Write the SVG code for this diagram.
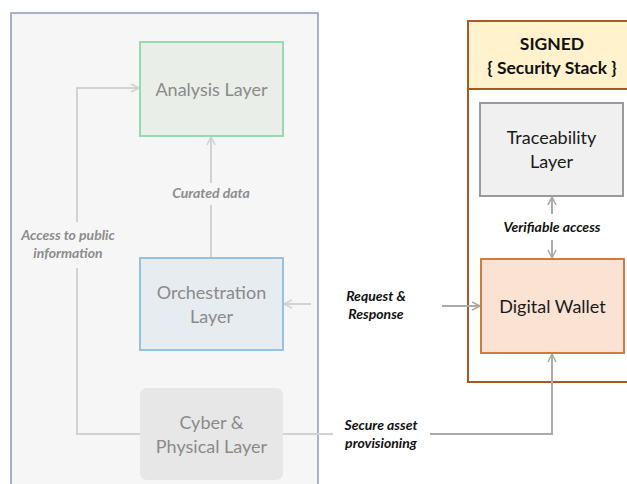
<svg xmlns="http://www.w3.org/2000/svg" width="627" height="484" viewBox="0 0 627 484">
  <defs>
    <style>
      .t { font-family: Lato, "Open Sans", sans-serif; text-anchor: middle; }
      .node { font-size: 18px; }
      .faded { fill: #8a8a8a; }
      .dark { fill: #1a1a1a; }
      .lbl { font-size: 14px; font-weight: bold; font-style: italic; }
      .lbl-f { fill: #8c8c8c; }
      .lbl-d { fill: #111; }
      .hdr { font-size: 17.5px; font-weight: bold; fill: #111; }
      .cf { fill: none; stroke: #d2d2d2; stroke-width: 2; }
      .cd { fill: none; stroke: #ababab; stroke-width: 2; }
    </style>
    <marker id="af" viewBox="0 0 10 10" refX="9" refY="5" markerWidth="5" markerHeight="5" orient="auto-start-reverse" markerUnits="strokeWidth">
      <path d="M1,1 L9,5 L1,9" fill="none" stroke="#d2d2d2" stroke-width="1.6"/>
    </marker>
    <marker id="ad" viewBox="0 0 10 10" refX="9" refY="5" markerWidth="5" markerHeight="5" orient="auto-start-reverse" markerUnits="strokeWidth">
      <path d="M1,1 L9,5 L1,9" fill="none" stroke="#ababab" stroke-width="1.6"/>
    </marker>
  </defs>

  <rect width="627" height="484" fill="#ffffff"/>

  <!-- platform panel -->
  <g id="platform">
    <rect x="11" y="13" width="307" height="480" fill="#f6f6f6" stroke="#8f9bb0" stroke-width="1.5"/>
  </g>

  <!-- security stack container -->
  <g id="security-stack">
    <rect x="468" y="21" width="170" height="361" fill="#ffffff" stroke="#a55a25" stroke-width="2"/>
    <rect x="468" y="21" width="170" height="68" fill="#fff2cc" stroke="#a55a25" stroke-width="2"/>
    <text class="t hdr" x="552" y="50">SIGNED</text>
    <text class="t hdr" x="552" y="74">{ Security Stack }</text>
  </g>

  <!-- connectors -->
  <g id="connectors">
    <!-- curated data -->
    <line class="cf" x1="211" y1="258" x2="211" y2="205"/>
    <line class="cf" x1="211" y1="183" x2="211" y2="137" marker-end="url(#af)"/>
    <!-- access to public information -->
    <polyline class="cf" points="140,434 77,434 77,268"/>
    <polyline class="cf" points="77,222 77,88 139,88" marker-end="url(#af)"/>
    <!-- request & response -->
    <line class="cf" x1="311" y1="304" x2="284" y2="304" marker-end="url(#af)"/>
    <line class="cd" x1="442" y1="306" x2="480" y2="306" marker-end="url(#ad)"/>
    <!-- secure asset provisioning -->
    <line class="cf" x1="283" y1="434" x2="333" y2="434"/>
    <polyline class="cd" points="430,434 552,434 552,354" marker-end="url(#ad)"/>
    <!-- verifiable access -->
    <line class="cd" x1="552" y1="197" x2="552" y2="214" marker-start="url(#ad)"/>
    <line class="cd" x1="552" y1="240" x2="552" y2="258" marker-end="url(#ad)"/>
  </g>

  <!-- nodes -->
  <g id="analysis-layer">
    <rect x="140" y="42" width="143" height="94" fill="#e9eee8" stroke="#95dab0" stroke-width="2"/>
    <text class="t node faded" x="211.5" y="96">Analysis Layer</text>
  </g>

  <g id="orchestration-layer">
    <rect x="140" y="258" width="143" height="92" fill="#e7ecf1" stroke="#92c3e2" stroke-width="2"/>
    <text class="t node faded" x="211.5" y="299">Orchestration</text>
    <text class="t node faded" x="211.5" y="323">Layer</text>
  </g>

  <g id="cyber-physical-layer">
    <rect x="140" y="388" width="143" height="92" rx="7" fill="#e7e7e7"/>
    <text class="t node faded" x="211.5" y="429">Cyber &amp;</text>
    <text class="t node faded" x="211.5" y="453">Physical Layer</text>
  </g>

  <g id="traceability-layer">
    <rect x="480" y="103" width="143" height="93" fill="#f0f0f0" stroke="#9a9a9a" stroke-width="2"/>
    <text class="t node dark" x="551.5" y="144">Traceability</text>
    <text class="t node dark" x="551.5" y="168">Layer</text>
  </g>

  <g id="digital-wallet">
    <rect x="481" y="259" width="143" height="94" fill="#fbe3d4" stroke="#d6793a" stroke-width="2"/>
    <text class="t node dark" x="552.5" y="313">Digital Wallet</text>
  </g>

  <!-- connector labels -->
  <g id="labels">
    <text class="t lbl lbl-f" x="211" y="198">Curated data</text>
    <text class="t lbl lbl-f" x="68" y="240">Access to public</text>
    <text class="t lbl lbl-f" x="68" y="258">information</text>
    <text class="t lbl lbl-d" x="376" y="301">Request &amp;</text>
    <text class="t lbl lbl-d" x="376" y="319">Response</text>
    <text class="t lbl lbl-d" x="381" y="430">Secure asset</text>
    <text class="t lbl lbl-d" x="381" y="448">provisioning</text>
    <text class="t lbl lbl-d" x="552" y="232">Verifiable access</text>
  </g>
</svg>
